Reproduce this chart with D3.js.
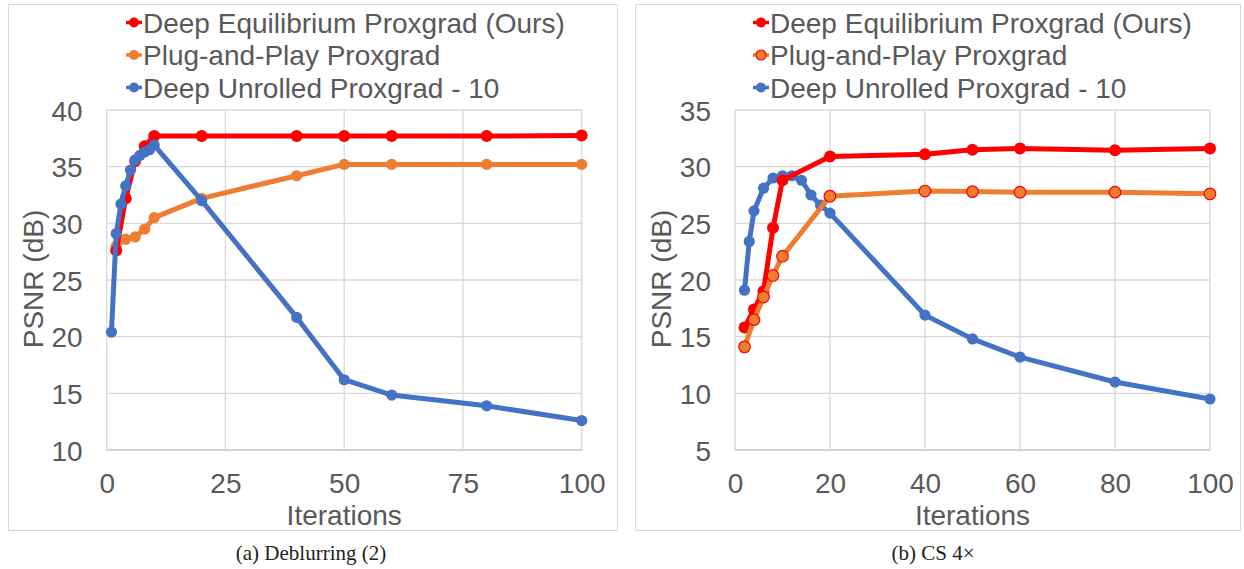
<!DOCTYPE html>
<html>
<head>
<meta charset="utf-8">
<script src="https://cdn.jsdelivr.net/npm/d3@7/dist/d3.min.js"></script>
<style>
  html, body { margin: 0; padding: 0; background: #fff; }
  svg { display: block; }
</style>
</head>
<body>
<svg id="chart" width="1244" height="569"></svg>
<script>
// ---------- DATA ----------
const seriesNames = ["Deep Equilibrium Proxgrad (Ours)", "Plug-and-Play Proxgrad", "Deep Unrolled Proxgrad - 10"];

// (a) Deblurring (2)
const deblurDEQIters = [2, 4, 6, 8, 10, 20, 40, 50, 60, 80, 100];
const deblurDEQ      = [27.6, 32.2, 35.5, 36.8, 37.7, 37.7, 37.7, 37.7, 37.7, 37.7, 37.75];
const deblurPnPIters = [2, 4, 6, 8, 10, 20, 40, 50, 60, 80, 100];
const deblurPnP      = [28.0, 28.6, 28.8, 29.5, 30.5, 32.2, 34.2, 35.2, 35.2, 35.2, 35.2];
const deblurUnrIters = [1, 2, 3, 4, 5, 6, 7, 8, 9, 10, 20, 40, 50, 60, 80, 100];
const deblurUnr      = [20.4, 29.1, 31.7, 33.3, 34.7, 35.6, 36.0, 36.3, 36.5, 36.9, 32.0, 21.7, 16.2, 14.85, 13.9, 12.6];
const deblurXTicks = [0, 25, 50, 75, 100];
const deblurYTicks = [10, 15, 20, 25, 30, 35, 40];

// (b) CS 4x
const csDEQIters = [2, 4, 6, 8, 10, 20, 40, 50, 60, 80, 100];
const csDEQ      = [15.8, 17.4, 19.0, 24.6, 28.8, 30.9, 31.1, 31.5, 31.6, 31.45, 31.6];
const csPnPIters = [2, 4, 6, 8, 10, 20, 40, 50, 60, 80, 100];
const csPnP      = [14.1, 16.5, 18.5, 20.4, 22.1, 27.4, 27.85, 27.8, 27.75, 27.75, 27.6];
const csUnrIters = [2, 3, 4, 6, 8, 10, 12, 14, 16, 18, 20, 40, 50, 60, 80, 100];
const csUnr      = [19.1, 23.4, 26.1, 28.1, 29.0, 29.2, 29.2, 28.8, 27.5, 26.6, 25.9, 16.9, 14.8, 13.2, 11.0, 9.5];
const csXTicks = [0, 20, 40, 60, 80, 100];
const csYTicks = [5, 10, 15, 20, 25, 30, 35];

const captions = ["(a) Deblurring (2)", "(b) CS 4\u00d7"];
const xTitle = "Iterations";
const yTitle = "PSNR (dB)";

// ---------- STYLE ----------
const RED = "#FF0000", ORANGE = "#ED7D31", BLUE = "#4472C4";
const TEXT = "#595959", GRID = "#D9D9D9";
const FONT = "'Liberation Sans', Arial, sans-serif";
const FS = "28px";

const svg = d3.select("#chart");

function zip(xs, ys) { return xs.map((x, i) => ({ x, y: ys[i] })); }

const panels = [
  {
    box: [8, 4, 617, 530],
    plot: { left: 106.7, right: 581.7, top: 110, bottom: 450 },
    yDomain: [10, 40], xTicks: deblurXTicks, yTicks: deblurYTicks,
    legendX: 134, yTitleX: 33, caption: captions[0], captionX: 311,
    series: [
      { data: zip(deblurPnPIters, deblurPnP), color: ORANGE, stroke: null, r: 5.6, idx: 1 },
      { data: zip(deblurDEQIters, deblurDEQ), color: RED, stroke: null, r: 6, idx: 0 },
      { data: zip(deblurUnrIters, deblurUnr), color: BLUE, stroke: null, r: 5.6, idx: 2 }
    ]
  },
  {
    box: [635, 4, 1240, 530],
    plot: { left: 735, right: 1210, top: 110, bottom: 450 },
    yDomain: [5, 35], xTicks: csXTicks, yTicks: csYTicks,
    legendX: 761, yTitleX: 661, caption: captions[1], captionX: 933,
    series: [
      { data: zip(csUnrIters, csUnr), color: BLUE, stroke: null, r: 5.6, idx: 2 },
      { data: zip(csDEQIters, csDEQ), color: RED, stroke: null, r: 6, idx: 0 },
      { data: zip(csPnPIters, csPnP), color: ORANGE, stroke: RED, r: 5.8, idx: 1 }
    ]
  }
];

panels.forEach(p => {
  const g = svg.append("g");
  // panel border
  g.append("rect")
    .attr("x", p.box[0] + 0.5).attr("y", p.box[1] + 0.5)
    .attr("width", p.box[2] - p.box[0]).attr("height", p.box[3] - p.box[1])
    .attr("fill", "#fff").attr("stroke", GRID).attr("stroke-width", 1);

  const x = d3.scaleLinear().domain([0, 100]).range([p.plot.left, p.plot.right]);
  const y = d3.scaleLinear().domain(p.yDomain).range([p.plot.bottom, p.plot.top]);

  // gridlines
  g.append("g").selectAll("line.h").data(p.yTicks).join("line")
    .attr("x1", p.plot.left).attr("x2", p.plot.right)
    .attr("y1", d => y(d)).attr("y2", d => y(d))
    .attr("stroke", GRID).attr("stroke-width", 1.3);
  g.append("g").selectAll("line.v").data(p.xTicks).join("line")
    .attr("x1", d => x(d)).attr("x2", d => x(d))
    .attr("y1", p.plot.top).attr("y2", p.plot.bottom)
    .attr("stroke", GRID).attr("stroke-width", 1.3);
  // bottom axis line
  g.append("line")
    .attr("x1", p.plot.left).attr("x2", p.plot.right)
    .attr("y1", p.plot.bottom).attr("y2", p.plot.bottom)
    .attr("stroke", "#CFCFCF").attr("stroke-width", 1.6);

  // axes (labels only) via d3 axis generators
  const xAxis = d3.axisBottom(x).tickValues(p.xTicks).tickSize(0).tickPadding(0);
  const gx = g.append("g").attr("transform", `translate(0,${p.plot.bottom})`).call(xAxis);
  gx.select(".domain").remove();
  gx.selectAll("text")
    .attr("y", 43).attr("dy", 0)
    .attr("fill", TEXT).style("font-family", FONT).style("font-size", FS);

  const yAxis = d3.axisLeft(y).tickValues(p.yTicks).tickSize(0).tickPadding(24);
  const gy = g.append("g").attr("transform", `translate(${p.plot.left},0)`).call(yAxis);
  gy.select(".domain").remove();
  gy.selectAll("text")
    .attr("dy", "0.36em")
    .attr("fill", TEXT).style("font-family", FONT).style("font-size", FS);

  // axis titles
  g.append("text")
    .attr("x", (p.plot.left + p.plot.right) / 2).attr("y", 525)
    .attr("text-anchor", "middle").attr("fill", TEXT)
    .style("font-family", FONT).style("font-size", FS)
    .text(xTitle);
  g.append("text")
    .attr("transform", `translate(${p.yTitleX + 10},279) rotate(-90)`)
    .attr("text-anchor", "middle").attr("fill", TEXT)
    .style("font-family", FONT).style("font-size", FS)
    .text(yTitle);

  // series
  const line = d3.line().x(d => x(d.x)).y(d => y(d.y));
  p.series.forEach(s => {
    g.append("path").datum(s.data)
      .attr("d", line).attr("fill", "none")
      .attr("stroke", s.color).attr("stroke-width", 5)
      .attr("stroke-linejoin", "round").attr("stroke-linecap", "round");
    g.append("g").selectAll("circle").data(s.data).join("circle")
      .attr("cx", d => x(d.x)).attr("cy", d => y(d.y)).attr("r", s.r)
      .attr("fill", s.color)
      .attr("stroke", s.stroke || "none").attr("stroke-width", s.stroke ? 1.2 : 0);
  });

  // legend
  const legendRows = [
    { name: seriesNames[0], color: RED, stroke: null },
    { name: seriesNames[1], color: ORANGE, stroke: p.series.find(s => s.idx === 1).stroke },
    { name: seriesNames[2], color: BLUE, stroke: null }
  ];
  const lg = g.append("g");
  legendRows.forEach((row, i) => {
    const cy = 22.5 + i * 32.5;
    lg.append("line")
      .attr("x1", p.legendX - 8).attr("x2", p.legendX + 8)
      .attr("y1", cy).attr("y2", cy)
      .attr("stroke", row.color).attr("stroke-width", 3.5);
    lg.append("circle")
      .attr("cx", p.legendX).attr("cy", cy).attr("r", 5)
      .attr("fill", row.color)
      .attr("stroke", row.stroke || "none").attr("stroke-width", row.stroke ? 1.2 : 0);
    lg.append("text")
      .attr("x", p.legendX + 9).attr("y", cy).attr("dy", "0.36em")
      .attr("fill", TEXT).style("font-family", FONT).style("font-size", FS)
      .text(row.name);
  });

  // caption
  svg.append("text")
    .attr("x", p.captionX).attr("y", 560)
    .attr("text-anchor", "middle").attr("fill", "#222")
    .style("font-family", "'Liberation Serif', 'DejaVu Serif', serif").style("font-size", "21px")
    .text(p.caption);
});
</script>
</body>
</html>
